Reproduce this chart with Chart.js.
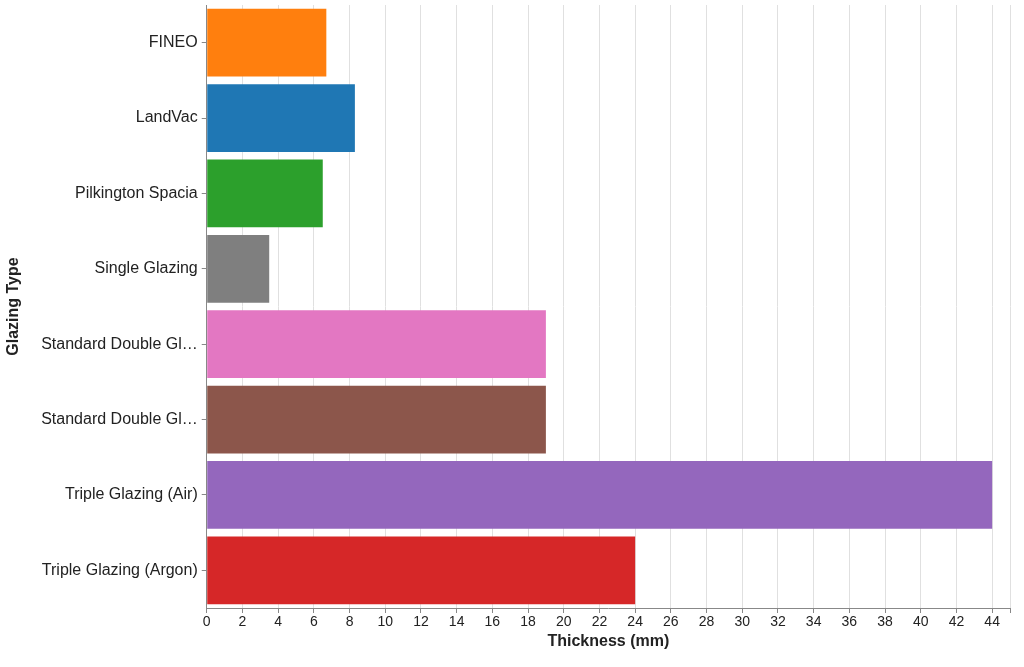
<!DOCTYPE html>
<html>
<head>
<meta charset="utf-8">
<script src="https://cdn.jsdelivr.net/npm/chart.js@4/dist/chart.umd.min.js"></script>
<style>
  html, body { margin: 0; padding: 0; background: #fff; }
  #wrap { width: 1024px; height: 667px; }
</style>
</head>
<body>
<div id="wrap"><canvas id="glazing-chart" width="1024" height="667"></canvas></div>
<script>
//Data
const glazingTypes = [
    'FINEO',
    'LandVac',
    'Pilkington Spacia',
    'Single Glazing',
    'Standard Double Glazing (Air)',
    'Standard Double Glazing (Argon)',
    'Triple Glazing (Air)',
    'Triple Glazing (Argon)'
];
const thickness = [6.7, 8.3, 6.5, 3.5, 19, 19, 44, 24];
const barColors = ['#ff7f0e', '#1f77b4', '#2ca02c', '#7f7f7f', '#e377c2', '#8c564b', '#9467bd', '#d62728'];
const xTicks = [0, 2, 4, 6, 8, 10, 12, 14, 16, 18, 20, 22, 24, 26, 28, 30, 32, 34, 36, 38, 40, 42, 44];
const xMax = 45;

const canvas = document.querySelector('#glazing-chart');

// long names get cut like the original axis does
const shorten = (s) => s.length > 22 ? s.slice(0, 18) + '…' : s;

const theChart = new Chart(canvas, {
    type: 'bar',
    data: {
        labels: glazingTypes,
        datasets: [{
            label: 'Thickness (mm)',
            data: thickness,
            backgroundColor: barColors,
            borderWidth: 0,
            barPercentage: 0.9,
            categoryPercentage: 1.0
        }]
    },
    options: {
        indexAxis: 'y',
        responsive: false,
        maintainAspectRatio: false,
        animation: false,
        layout: { padding: { left: 4, right: 14, top: 5, bottom: 16 } },
        plugins: {
            legend: { display: false },
            tooltip: { enabled: false }
        },
        scales: {
            x: {
                min: 0,
                max: xMax,
                afterBuildTicks: (axis) => {
                    axis.ticks = xTicks.concat([xMax]).map(v => ({ value: v }));
                },
                ticks: {
                    color: '#222',
                    font: { family: 'Liberation Sans', size: 14 },
                    padding: 1,
                    maxRotation: 0,
                    autoSkip: false,
                    callback: (v) => xTicks.includes(v) ? v : ''
                },
                grid: { color: '#e0e0e0', tickColor: '#888', tickLength: 5 },
                border: { color: '#888' },
                title: {
                    display: true,
                    text: 'Thickness (mm)',
                    color: '#222',
                    font: { family: 'Liberation Sans', size: 16, weight: 'bold' },
                    padding: { top: 0, bottom: 0 }
                }
            },
            y: {
                afterFit: (axis) => {
                    axis.paddingTop = 0;
                    axis.paddingBottom = 0;
                },
                ticks: {
                    color: '#222',
                    font: { family: 'Liberation Sans', size: 16 },
                    padding: 4,
                    autoSkip: false,
                    callback: function (v) { return shorten(this.getLabelForValue(v)); }
                },
                grid: { offset: false, drawOnChartArea: false, tickColor: '#888', tickLength: 5 },
                border: { color: '#888' },
                title: {
                    display: true,
                    text: 'Glazing Type',
                    color: '#222',
                    font: { family: 'Liberation Sans', size: 16, weight: 'bold' },
                    padding: { top: 0, bottom: 14 }
                }
            }
        }
    }
});
</script>
</body>
</html>
